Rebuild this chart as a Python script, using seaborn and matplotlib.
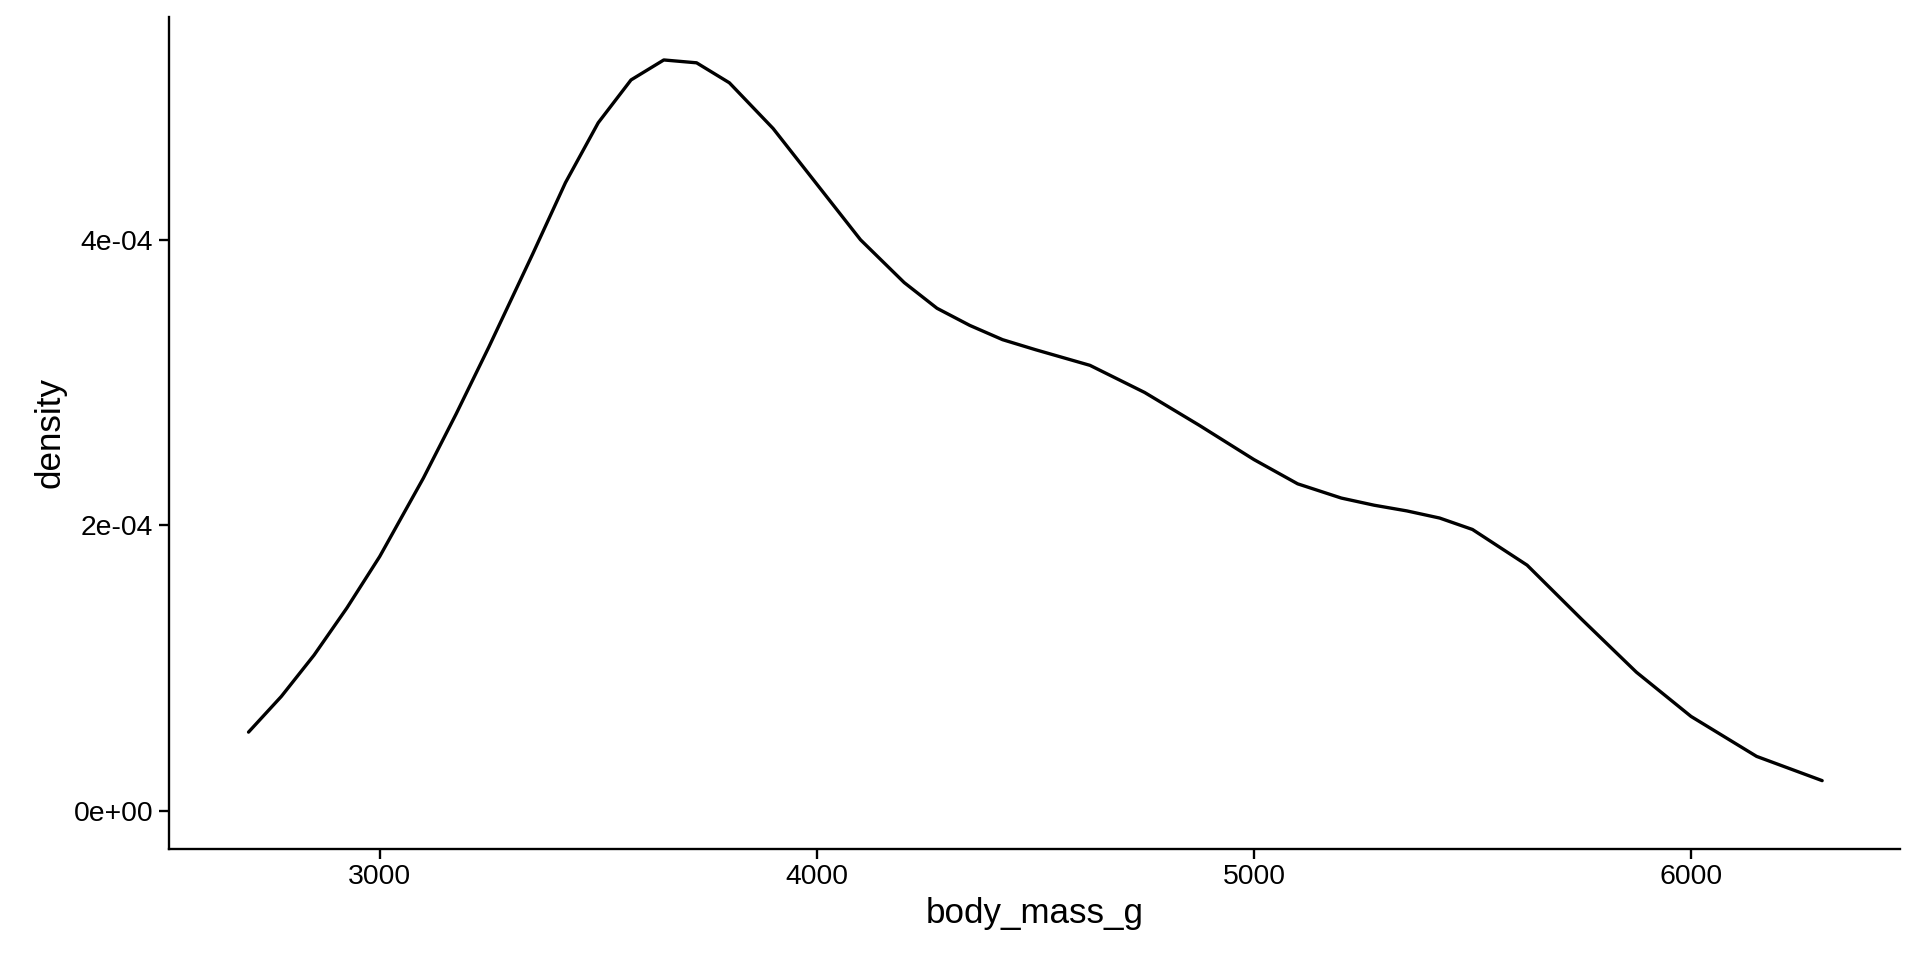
import matplotlib
matplotlib.use("Agg")
import matplotlib.pyplot as plt
import seaborn as sns
import pandas as pd

body_mass_g = [2700, 2775, 2850, 2925, 3000, 3100, 3175, 3250, 3350, 3425, 3500, 3575, 3650, 3725, 3800, 3900, 4000,
               4100, 4200, 4275, 4350, 4425, 4500, 4625, 4750, 4875, 5000, 5100, 5200, 5275, 5350, 5425, 5500, 5625, 5750, 5875,
               6000, 6150, 6300]
density = [0.55e-4, 0.80e-4, 1.09e-4, 1.42e-4, 1.78e-4, 2.33e-4, 2.78e-4, 3.25e-4, 3.90e-4, 4.40e-4, 4.82e-4, 5.12e-4,
           5.26e-4, 5.24e-4, 5.10e-4, 4.78e-4, 4.39e-4, 4.00e-4, 3.70e-4, 3.52e-4, 3.40e-4, 3.30e-4, 3.23e-4, 3.12e-4,
           2.93e-4, 2.70e-4, 2.46e-4, 2.29e-4, 2.19e-4, 2.14e-4, 2.10e-4, 2.05e-4, 1.97e-4, 1.72e-4, 1.34e-4, 0.97e-4,
           0.66e-4, 0.38e-4, 0.21e-4]

sns.set_theme(style="ticks")
plt.rcParams['font.family'] = ['Liberation Sans', 'DejaVu Sans']

W, H = 1568, 784
df = pd.DataFrame({"body_mass_g": body_mass_g, "density": density})
fig = plt.figure(figsize=(16, 8), dpi=120)
ax = fig.add_axes([138/W, 1-693/H, (1552-138)/W, (693-14)/H])
sns.lineplot(data=df, x="body_mass_g", y="density", color="black", linewidth=2.0, ax=ax)
ax.set_xlim(2518, 6479)
ax.set_ylim(-0.266e-4, 5.56e-4)
ax.set_xticks([3000, 4000, 5000, 6000])
ax.set_yticks([0, 2e-4, 4e-4])
ax.set_yticklabels(["0e+00", "2e-04", "4e-04"])
for s in ["top", "right"]:
    ax.spines[s].set_visible(False)
for s in ["left", "bottom"]:
    ax.spines[s].set_color("black")
    ax.spines[s].set_linewidth(1.4)
ax.tick_params(colors="black", labelsize=17, length=6, width=1.4)
ax.set_xlabel("body_mass_g", fontsize=21, color="black")
ax.set_ylabel("density", fontsize=21, color="black")
fig.savefig("out.png", dpi=120)
